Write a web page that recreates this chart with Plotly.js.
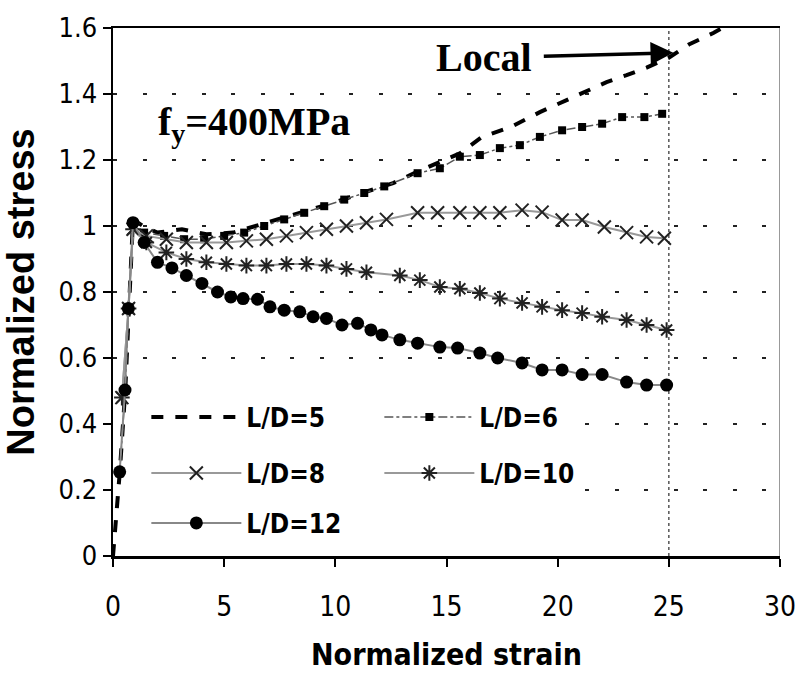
<!DOCTYPE html>
<html>
<head>
<meta charset="utf-8">
<script src="https://cdn.plot.ly/plotly-3.0.1.min.js"></script>
<style>html,body{margin:0;padding:0;background:#fff;}#chart{width:797px;height:675px;}</style>
</head>
<body>
<div id="chart"></div>
<script>
// ---- data ----
const seriesNames = ["L/D=5", "L/D=6", "L/D=8", "L/D=10", "L/D=12"];

const ld5X = [0, 0.3, 0.55, 0.7, 0.9, 1.35, 2, 3.1, 4.2, 5.4, 6.9, 8.5, 9.9, 11.2, 12.6, 13.7, 14.6, 15.6, 16.6, 17.9, 19.2, 20.2, 21.2, 22.2, 23.1, 24.0, 25.0, 25.9, 27.0, 27.4];
const ld5Y = [0, 0.25, 0.5, 0.75, 1.02, 1.0, 0.98, 0.99, 0.975, 0.98, 1.01, 1.04, 1.07, 1.10, 1.13, 1.165, 1.19, 1.22, 1.27, 1.30, 1.345, 1.376, 1.406, 1.436, 1.457, 1.48, 1.51, 1.55, 1.585, 1.6];

const ld6X = [0.3, 0.55, 0.7, 0.9, 1.4, 2.3, 3.2, 4.1, 5.0, 5.9, 6.8, 7.7, 8.6, 9.5, 10.4, 11.3, 12.2, 13.7, 14.7, 15.6, 16.5, 17.4, 18.3, 19.2, 20.2, 21.1, 22.0, 22.9, 23.9, 24.7];
const ld6Y = [0.25, 0.5, 0.75, 1.0, 0.98, 0.97, 0.96, 0.96, 0.97, 0.98, 1.0, 1.02, 1.04, 1.06, 1.08, 1.10, 1.12, 1.16, 1.175, 1.21, 1.215, 1.236, 1.245, 1.27, 1.29, 1.30, 1.31, 1.33, 1.33, 1.34];

const ld8X = [0.4, 0.7, 0.9, 1.5, 2.4, 3.3, 4.2, 5.1, 6.0, 6.9, 7.8, 8.7, 9.6, 10.5, 11.4, 12.3, 13.7, 14.6, 15.6, 16.5, 17.4, 18.4, 19.3, 20.2, 21.1, 22.1, 23.1, 24.0, 24.8];
const ld8Y = [0.48, 0.75, 0.99, 0.97, 0.96, 0.95, 0.95, 0.95, 0.955, 0.96, 0.97, 0.98, 0.99, 1.0, 1.01, 1.02, 1.04, 1.04, 1.04, 1.04, 1.04, 1.048, 1.042, 1.018, 1.018, 0.997, 0.98, 0.967, 0.963];

const ld10X = [0.4, 0.7, 0.9, 1.5, 2.4, 3.3, 4.2, 5.1, 6.0, 6.9, 7.8, 8.7, 9.6, 10.5, 11.4, 12.9, 13.8, 14.7, 15.6, 16.5, 17.4, 18.4, 19.3, 20.2, 21.1, 22.0, 23.1, 24.0, 24.9];
const ld10Y = [0.48, 0.75, 0.99, 0.95, 0.92, 0.90, 0.89, 0.885, 0.88, 0.88, 0.885, 0.885, 0.88, 0.87, 0.86, 0.85, 0.836, 0.815, 0.81, 0.797, 0.78, 0.767, 0.755, 0.745, 0.736, 0.725, 0.715, 0.70, 0.685];

const ld12X = [0.3, 0.54, 0.69, 0.9, 1.4, 2.0, 2.65, 3.3, 4.0, 4.7, 5.3, 5.85, 6.5, 7.06, 7.7, 8.4, 9.0, 9.6, 10.3, 11.0, 11.6, 12.1, 12.9, 13.7, 14.7, 15.5, 16.5, 17.3, 18.4, 19.3, 20.2, 21.1, 22.0, 23.1, 24.0, 24.9];
const ld12Y = [0.255, 0.503, 0.75, 1.01, 0.95, 0.89, 0.873, 0.85, 0.826, 0.80, 0.785, 0.78, 0.778, 0.755, 0.745, 0.74, 0.725, 0.72, 0.70, 0.705, 0.685, 0.67, 0.655, 0.645, 0.633, 0.63, 0.615, 0.60, 0.585, 0.564, 0.564, 0.55, 0.55, 0.527, 0.518, 0.518];

const xTickVals = [0, 5, 10, 15, 20, 25, 30];
const yTickVals = [0, 0.2, 0.4, 0.6, 0.8, 1, 1.2, 1.4, 1.6];
const yTickText = ["0", "0.2", "0.4", "0.6", "0.8", "1", "1.2", "1.4", "1.6"];

const xTitle = "Normalized strain";
const yTitle = "Normalized stress";
const yieldLabel = "f<sub>y</sub>=400MPa";
const localLabel = "Local";
const localArrowTip = [25.2, 1.525];
const localTextPos = [16.7, 1.51];
const yieldTextPos = [6.34, 1.31];

// ---- styling ----
const narrow = '"Liberation Sans Narrow", "Arial Narrow", "DejaVu Sans Condensed", sans-serif';
const serif = '"Liberation Serif", "Times New Roman", serif';

const traces = [
  {x: ld5X, y: ld5Y, name: seriesNames[0], mode: 'lines', legend: 'legend',
   line: {color: '#000', width: 4, dash: 'dash'}},
  {x: ld6X, y: ld6Y, name: seriesNames[1], mode: 'lines+markers', legend: 'legend',
   line: {color: '#555', width: 1.5, dash: 'dashdot'},
   marker: {symbol: 'square', size: 8, color: '#000'}},
  {x: ld8X, y: ld8Y, name: seriesNames[2], mode: 'lines+markers', legend: 'legend2',
   line: {color: '#999', width: 2},
   marker: {symbol: 'x-thin-open', size: 13, color: '#222', line: {color: '#222', width: 2}}},
  {x: ld10X, y: ld10Y, name: seriesNames[3], mode: 'lines+markers', legend: 'legend2',
   line: {color: '#999', width: 2},
   marker: {symbol: 'asterisk-open', size: 13, color: '#222', line: {color: '#222', width: 2}}},
  {x: ld12X, y: ld12Y, name: seriesNames[4], mode: 'lines+markers', legend: 'legend3',
   line: {color: '#888', width: 2},
   marker: {symbol: 'circle', size: 13, color: '#000'}}
];

const legendBase = {
  orientation: 'h', x: 0.05, xanchor: 'left', yanchor: 'middle',
  bgcolor: 'rgba(0,0,0,0)', borderwidth: 0, itemwidth: 90, entrywidth: 128,
  font: {family: narrow, size: 26, color: '#000', weight: 'bold'},
  itemclick: false
};

const layout = {
  width: 797, height: 675,
  margin: {l: 113, r: 17, t: 28, b: 119},
  paper_bgcolor: '#fff', plot_bgcolor: '#fff',
  showlegend: true,
  legend: Object.assign({}, legendBase, {y: 0.263}),
  legend2: Object.assign({}, legendBase, {y: 0.157}),
  legend3: Object.assign({}, legendBase, {y: 0.0625}),
  xaxis: {
    range: [0, 30], tickvals: xTickVals, ticktext: xTickVals.map(String),
    showline: true, linecolor: '#000', linewidth: 2.5, mirror: true,
    ticks: 'outside', ticklen: 8, tickwidth: 2, tickcolor: '#000',
    ticklabelstandoff: 16,
    showgrid: false, zeroline: false,
    tickfont: {family: narrow, size: 28, color: '#000'},
    title: {text: xTitle, font: {family: narrow, size: 30, color: '#000', weight: 'bold'}, standoff: 22}
  },
  yaxis: {
    range: [0, 1.6], tickvals: yTickVals, ticktext: yTickText,
    showline: true, linecolor: '#000', linewidth: 2.5,
    ticks: 'outside', ticklen: 8, tickwidth: 2, tickcolor: '#000',
    showgrid: true, gridcolor: '#222', gridwidth: 2.5, griddash: '4px,25.5px',
    zeroline: false,
    tickfont: {family: narrow, size: 27, color: '#000'},
    title: {text: yTitle, font: {family: '"Liberation Sans", Arial, sans-serif', size: 38, color: '#000', weight: 'bold'}, standoff: 12}
  },
  shapes: [
    {type: 'rect', xref: 'x', yref: 'y', x0: 0, x1: 21, y0: 0.01, y1: 0.5,
     fillcolor: '#fff', line: {width: 0}, layer: 'between'},
    {type: 'line', xref: 'x', yref: 'y', x0: 25, x1: 25, y0: 0, y1: 1.6,
     line: {color: '#555', width: 1.5, dash: 'dot'}, layer: 'between'},
    {type: 'line', xref: 'x', yref: 'y', x0: 30, x1: 30, y0: 0, y1: 1.6,
     line: {color: '#999', width: 2}, layer: 'above'}
  ],
  annotations: [
    {text: yieldLabel, xref: 'x', yref: 'y', x: yieldTextPos[0], y: yieldTextPos[1],
     showarrow: false, font: {family: serif, size: 40, color: '#000', weight: 'bold'}},
    {text: localLabel, xref: 'x', yref: 'y', x: localArrowTip[0], y: localArrowTip[1],
     axref: 'x', ayref: 'y', ax: localTextPos[0], ay: localTextPos[1],
     showarrow: true, arrowhead: 2, arrowsize: 1.3, arrowwidth: 3.5, arrowcolor: '#000',
     startstandoff: 10,
     font: {family: serif, size: 40, color: '#000', weight: 'bold'}}
  ]
};

Plotly.newPlot('chart', traces, layout, {staticPlot: true, displayModeBar: false});
</script>
</body>
</html>
